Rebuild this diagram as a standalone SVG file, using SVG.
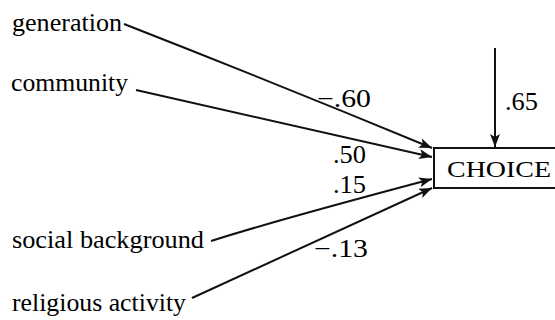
<svg xmlns="http://www.w3.org/2000/svg" width="555" height="320" viewBox="0 0 555 320">
  <defs>
    <marker id="head" markerUnits="userSpaceOnUse" markerWidth="14" markerHeight="10" refX="13" refY="5" orient="auto">
      <path d="M0,0 L13,5 L0,10 L3,5 Z" fill="#111"/>
    </marker>
  </defs>

  <rect width="555" height="320" fill="#fff"/>

  <!-- connectors -->
  <g id="connectors" fill="none" stroke="#111" stroke-width="2">
    <path d="M124,24 Q280,85 432,148" marker-end="url(#head)"/>
    <path d="M136,90 L432,157" marker-end="url(#head)"/>
    <path d="M211,241 Q270,222 432,179" marker-end="url(#head)"/>
    <path d="M192,298 L432,188" marker-end="url(#head)"/>
    <path d="M495,48 L495,147" marker-end="url(#head)"/>
  </g>

  <!-- path coefficients -->
  <g id="coefficients">
    <text x="317" y="107" font-family="Liberation Serif" font-size="25" textLength="54" lengthAdjust="spacingAndGlyphs">−.60</text>
    <text x="333" y="163" font-family="Liberation Serif" font-size="25" textLength="33" lengthAdjust="spacingAndGlyphs">.50</text>
    <text x="333" y="193" font-family="Liberation Serif" font-size="25" textLength="33" lengthAdjust="spacingAndGlyphs">.15</text>
    <text x="314" y="257" font-family="Liberation Serif" font-size="25" textLength="54" lengthAdjust="spacingAndGlyphs">−.13</text>
    <text x="505" y="110" font-family="Liberation Serif" font-size="25" textLength="33" lengthAdjust="spacingAndGlyphs">.65</text>
  </g>

  <!-- predictor nodes -->
  <g id="generation"><text x="12" y="31" font-family="Liberation Serif" font-size="25" textLength="110" lengthAdjust="spacingAndGlyphs">generation</text></g>
  <g id="community"><text x="11" y="91" font-family="Liberation Serif" font-size="25" textLength="117" lengthAdjust="spacingAndGlyphs">community</text></g>
  <g id="social-background"><text x="12" y="248" font-family="Liberation Serif" font-size="25" textLength="192" lengthAdjust="spacingAndGlyphs">social background</text></g>
  <g id="religious-activity"><text x="12" y="311" font-family="Liberation Serif" font-size="25" textLength="174" lengthAdjust="spacingAndGlyphs">religious activity</text></g>

  <!-- outcome node -->
  <g id="choice">
    <rect x="434" y="148" width="130" height="40" fill="#fff" stroke="#111" stroke-width="2"/>
    <text x="447" y="177" font-family="Liberation Serif" font-size="23" textLength="104" lengthAdjust="spacingAndGlyphs">CHOICE</text>
  </g>
</svg>
